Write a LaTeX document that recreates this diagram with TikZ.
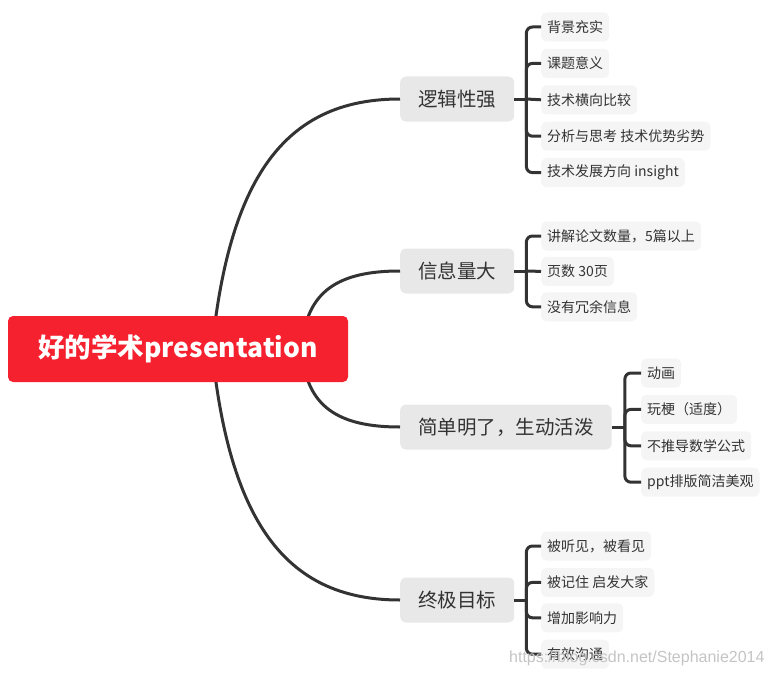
\documentclass[tikz,border=0pt]{standalone}
\usepackage{fontspec}
\setmainfont{Noto Sans CJK SC}
\newfontfamily\wmfont{Liberation Sans}
\usetikzlibrary{positioning}
\definecolor{mmink}{HTML}{333333}
\definecolor{mmred}{HTML}{F5212F}
\definecolor{mmtopic}{HTML}{E8E8E8}
\definecolor{mmleaf}{HTML}{F5F5F5}
\definecolor{mmmark}{HTML}{C4C4C4}
\tikzset{
  mm root/.style={fill=mmred, rounded corners=5pt, minimum width=340pt, minimum height=66pt,
    text=white, font=\fontsize{26.5}{30}\selectfont\bfseries},
  mm topic/.style={fill=mmtopic, rounded corners=6pt, minimum height=45pt, inner xsep=18pt,
    text=mmink, font=\fontsize{19.5}{23}\selectfont, anchor=west},
  mm leaf/.style={fill=mmleaf, rounded corners=5pt, minimum height=29pt, inner xsep=6pt,
    text=mmink, font=\fontsize{14}{17}\selectfont},
  mm link/.style={draw=mmink, line width=3pt},
  mm bar/.style={draw=mmink, line width=3pt, rounded corners=6pt},
  mm mark/.style={text=mmmark, inner sep=0pt, anchor=west, font=\wmfont\fontsize{16}{19}\selectfont}
}

\begin{document}
\begin{tikzpicture}[x=1pt, y=-1pt, node distance=7pt]
  \useasboundingbox (0,0) rectangle (771,677);
  % topics
  \node[mm topic] (logic) at (400,99) {逻辑性强};
  \node[mm topic] (info) at (400,271) {信息量大};
  \node[mm topic] (simple) at (400,427) {简单明了，生动活泼};
  \node[mm topic] (goal) at (400,600) {终极目标};
  % leaves of logic
  \node[mm leaf, anchor=west] (bg) at (541,27) {背景充实};
  \node[mm leaf, below=of bg.south west, anchor=north west] (sense) {课题意义};
  \node[mm leaf, below=of sense.south west, anchor=north west] (compare) {技术横向比较};
  \node[mm leaf, below=of compare.south west, anchor=north west] (analyse) {分析与思考 技术优势劣势};
  \node[mm leaf, below=of analyse.south west, anchor=north west] (trend) {技术发展方向 insight};
  % leaves of info
  \node[mm leaf, anchor=west] (papers) at (541,236) {讲解论文数量，5篇以上};
  \node[mm leaf, below=6pt of papers.south west, anchor=north west] (pages) {页数 30页};
  \node[mm leaf, below=6pt of pages.south west, anchor=north west] (noextra) {没有冗余信息};
  % leaves of simple
  \node[mm leaf, anchor=west] (anim) at (641,373) {动画};
  \node[mm leaf, below=of anim.south west, anchor=north west] (meme) {玩梗（适度）};
  \node[mm leaf, below=of meme.south west, anchor=north west] (noformula) {不推导数学公式};
  \node[mm leaf, below=of noformula.south west, anchor=north west] (layout) {ppt排版简洁美观};
  % leaves of goal
  \node[mm leaf, anchor=west] (heard) at (541,546) {被听见，被看见};
  \node[mm leaf, below=of heard.south west, anchor=north west] (inspire) {被记住 启发大家};
  \node[mm leaf, below=6pt of inspire.south west, anchor=north west] (impact) {增加影响力};
  \node[mm leaf, below=of impact.south west, anchor=north west] (talk) {有效沟通};
  % brackets
  \coordinate (logicbar) at ([xshift=12pt]logic.east);
  \coordinate (infobar) at ([xshift=12pt]info.east);
  \coordinate (simplebar) at ([xshift=13pt]simple.east);
  \coordinate (goalbar) at ([xshift=12pt]goal.east);
  \draw[mm link] (logic.east) -- (logicbar);
  \draw[mm link] (info.east) -- (infobar);
  \draw[mm link] (simple.east) -- (simplebar);
  \draw[mm link] (goal.east) -- (goalbar);
  \draw[mm bar] (logicbar) |- (bg.west);
  \draw[mm bar] (logicbar) |- (sense.west);
  \draw[mm link] (logicbar) -- (compare.west);
  \draw[mm bar] (logicbar) |- (analyse.west);
  \draw[mm bar] (logicbar) |- (trend.west);
  \draw[mm bar] (infobar) |- (papers.west);
  \draw[mm link] (infobar) -- (pages.west);
  \draw[mm bar] (infobar) |- (noextra.west);
  \draw[mm bar] (simplebar) |- (anim.west);
  \draw[mm bar] (simplebar) |- (meme.west);
  \draw[mm bar] (simplebar) |- (noformula.west);
  \draw[mm bar] (simplebar) |- (layout.west);
  \draw[mm bar] (goalbar) |- (heard.west);
  \draw[mm bar] (goalbar) |- (inspire.west);
  \draw[mm bar] (goalbar) |- (impact.west);
  \draw[mm bar] (goalbar) |- (talk.west);
  % curves from the root
  \coordinate (rootl) at (212,349);
  \coordinate (rootr) at (302,349);
  \draw[mm link] (rootl) .. controls (230,170) and (290,99) .. (logic.west);
  \draw[mm link] (rootr) .. controls (305,290) and (340,271) .. (info.west);
  \draw[mm link] (rootr) .. controls (305,408) and (340,427) .. (simple.west);
  \draw[mm link] (rootl) .. controls (230,528) and (290,600) .. (goal.west);
  \node[mm root] (root) at (178,349) {好的学术presentation};
  \node[mm mark] (mark) at (509,658) {https://blog.csdn.net/Stephanie2014};
\end{tikzpicture}
\end{document}
